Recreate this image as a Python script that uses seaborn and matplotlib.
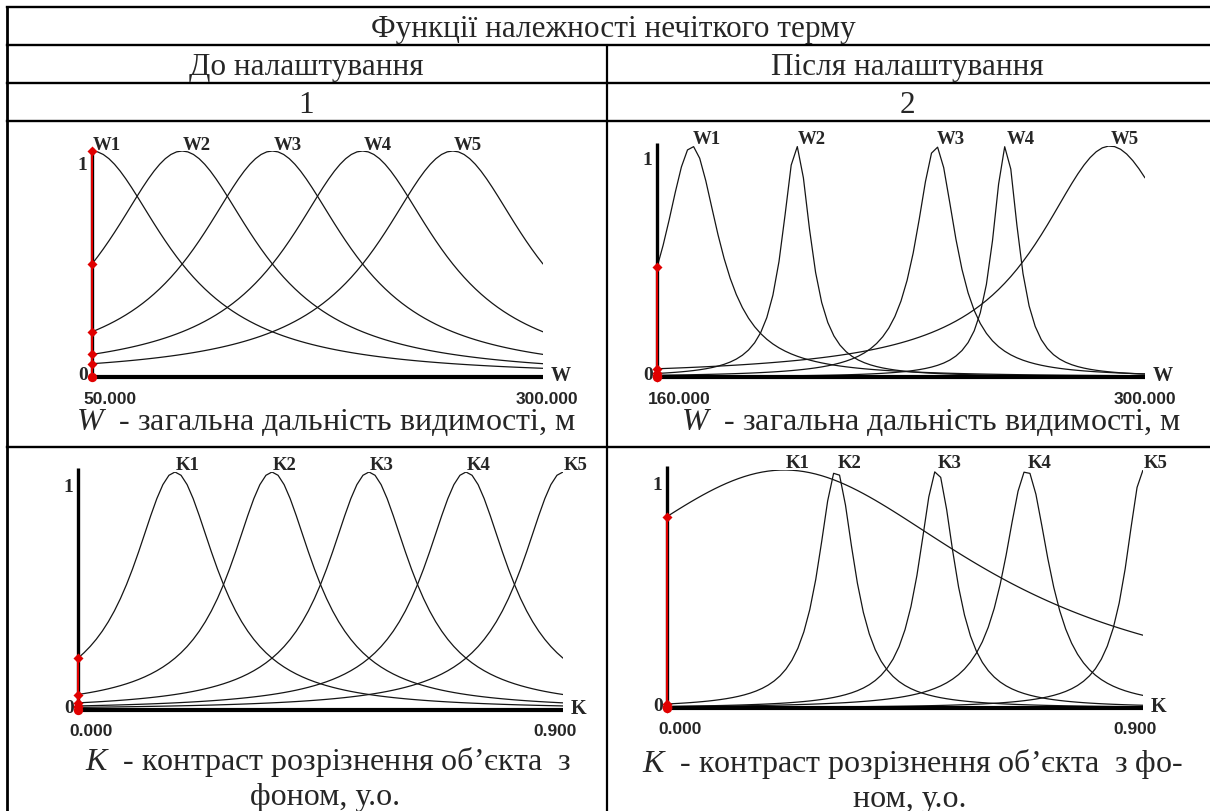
import numpy as np
import pandas as pd
import matplotlib
matplotlib.use("Agg")
import matplotlib.pyplot as plt
import matplotlib.transforms as mtransforms
from matplotlib.patches import Rectangle
import seaborn as sns

# ---------------- data ----------------
header_title = "Функції належності нечіткого терму"
col_titles = ["До налаштування", "Після налаштування"]
col_numbers = ["1", "2"]

w_terms = ["W1", "W2", "W3", "W4", "W5"]
w_before_centers = [50, 100, 150, 200, 250]
w_before_widths = [50, 50, 50, 50, 50]
w_after_centers = [170, 200, 240, 260, 290]
w_after_widths = [9.5, 5.0, 7.0, 4.5, 25.0]
w_before_range = [50, 300]
w_after_range = [160, 300]
w_before_ticks = ["50.000", "300.000"]
w_after_ticks = ["160.000", "300.000"]

k_terms = ["K1", "K2", "K3", "K4", "K5"]
k_before_centers = [0.18, 0.36, 0.54, 0.72, 0.90]
k_before_widths = [0.095, 0.095, 0.095, 0.095, 0.095]
k_after_centers = [0.222, 0.32, 0.51, 0.68, 0.90]
k_after_widths = [0.45, 0.042, 0.042, 0.052, 0.040]
k_range = [0.0, 0.9]
k_ticks = ["0.000", "0.900"]

w_caption = r"$W$  - загальна дальність видимості, м"
k_caption_left = [r"$K$  - контраст розрізнення об’єкта  з", "фоном, у.о."]
k_caption_right = [r"$K$  - контраст розрізнення об’єкта  з фо-", "ном, у.о."]

# ---------------- style ----------------
sns.set_theme(style="white")
plt.rcParams["font.family"] = ["Liberation Serif", "DejaVu Serif"]
plt.rcParams["mathtext.fontset"] = "custom"
plt.rcParams["mathtext.it"] = "Liberation Serif:italic"
plt.rcParams["mathtext.rm"] = "Liberation Serif"

W, H = 1210, 812
fig = plt.figure(figsize=(W / 100, H / 100), dpi=100)
fig.patch.set_facecolor("white")

# overlay axes in pixel coordinates (y from top)
ov = fig.add_axes([0, 0, 1, 1])
ov.set_xlim(0, W)
ov.set_ylim(H, 0)
ov.axis("off")
ov.set_zorder(0)

# ---------------- table ----------------
xl, xm = 7, 607
for y in [8, 46, 84, 122, 448]:
    ov.plot([xl, W + 5], [y, y], color="black", lw=1.7, solid_capstyle="projecting")
ov.plot([xl, xl], [8, H + 5], color="black", lw=2.0)
ov.plot([xm, xm], [46, H + 5], color="black", lw=1.6)

hf = 22.5
ov.text(613, 37, header_title, ha="center", va="baseline", fontsize=hf)
for cx, t, n in zip([306, 907], col_titles, col_numbers):
    ov.text(cx, 75, t, ha="center", va="baseline", fontsize=hf)
    ov.text(cx, 113, n, ha="center", va="baseline", fontsize=hf)

cf = 23
ov.text(326, 430, w_caption, ha="center", va="baseline", fontsize=cf)
ov.text(931, 430, w_caption, ha="center", va="baseline", fontsize=cf)
ov.text(328, 770, k_caption_left[0], ha="center", va="baseline", fontsize=cf)
ov.text(325, 805, k_caption_left[1], ha="center", va="baseline", fontsize=cf)
ov.text(913, 772, k_caption_right[0], ha="center", va="baseline", fontsize=cf)
ov.text(910, 807, k_caption_right[1], ha="center", va="baseline", fontsize=cf)


def bell(x, c, a):
    return 1.0 / (1.0 + ((x - c) / a) ** 2)


def off(ax, dx, dy):
    return mtransforms.offset_copy(ax.transData, fig, x=dx, y=dy, units="dots")


def panel(x0, x1, yz, y1, xr_, centers, widths, terms, ticks, letter, rtick_dx,
          clip_right=None):
    ax = fig.add_axes([x0 / W, (H - yz) / H, (x1 - x0) / W, (yz - y1) / H])
    ax.set_zorder(2)
    ax.patch.set_alpha(0)
    ax.set_xlim(xr_)
    ax.set_ylim(0, 1)
    ax.axis("off")
    xs = np.linspace(xr_[0], xr_[1], 81)
    frames = []
    for t, c, a in zip(terms, centers, widths):
        frames.append(pd.DataFrame({"x": xs, "mu": bell(xs, c, a), "term": t}))
    df = pd.concat(frames, ignore_index=True)
    sns.lineplot(data=df, x="x", y="mu", hue="term", palette=["#151515"] * len(terms),
                 legend=False, lw=0.9, estimator=None, sort=False, ax=ax, zorder=3)
    ax.set_xlabel("")
    ax.set_ylabel("")
    # axes lines
    ax.plot([xr_[0], xr_[0]], [0, 1.015], color="black", lw=2.4, clip_on=False, zorder=4,
            solid_capstyle="butt")
    ax.plot([xr_[0], xr_[1]], [0, 0], color="black", lw=3.0, clip_on=False, zorder=4,
            solid_capstyle="butt")
    vals = [bell(xr_[0], c, a) for c, a in zip(centers, widths)]
    ax.plot([xr_[0], xr_[0]], [0, max(vals)], color="#e00000", lw=1.5, clip_on=False,
            zorder=5)
    ax.scatter([xr_[0]] * len(vals), vals, s=26, marker="D", color="#e00000", zorder=6,
               clip_on=False, linewidths=0)
    ax.scatter([xr_[0]], [0], s=45, marker="o", color="#e00000", zorder=6, clip_on=False,
               linewidths=0)
    # term labels
    for t, c in zip(terms, centers):
        ax.text(c, 1.0, t, ha="left", va="center", fontsize=13.5, fontweight="bold",
                transform=off(ax, 1, 7), clip_on=False)
    # y labels
    ax.text(xr_[0], 0.94, "1", ha="right", va="center", fontsize=14, fontweight="bold",
            transform=off(ax, -5, 0))
    ax.text(xr_[0], 0.0, "0", ha="right", va="center", fontsize=14, fontweight="bold",
            transform=off(ax, -4, 2))
    # x letter
    ax.text(xr_[1], 0.0, letter, ha="left", va="center", fontsize=14.5, fontweight="bold",
            transform=off(ax, 8, 2))
    # ticks
    ax.text(xr_[0], 0.0, ticks[0], ha="left", va="center", fontsize=12.5,
            fontweight="bold", family="Liberation Sans", transform=off(ax, -9, -21))
    tr = ax.text(xr_[1], 0.0, ticks[1], ha="center", va="center", fontsize=12.5,
                 fontweight="bold", family="Liberation Sans",
                 transform=off(ax, rtick_dx, -21))
    if clip_right is not None:
        rect = Rectangle((0, 0), clip_right, H, transform=ov.transData, visible=False)
        ov.add_patch(rect)
        tr.set_clip_on(True)
        tr.set_clip_path(rect)
    return ax


panel(92, 543, 378, 152, w_before_range, w_before_centers, w_before_widths, w_terms,
      w_before_ticks, "W", 4)
panel(657, 1145, 378, 147, w_after_range, w_after_centers, w_after_widths, w_terms,
      w_after_ticks, "W", 0, clip_right=1180)
panel(78, 563, 711, 473, k_range, k_before_centers, k_before_widths, k_terms, k_ticks,
      "K", -8)
panel(667, 1143, 709, 471, k_range, k_after_centers, k_after_widths, k_terms, k_ticks,
      "K", -8)

fig.savefig("out.png", dpi=100, facecolor="white")
